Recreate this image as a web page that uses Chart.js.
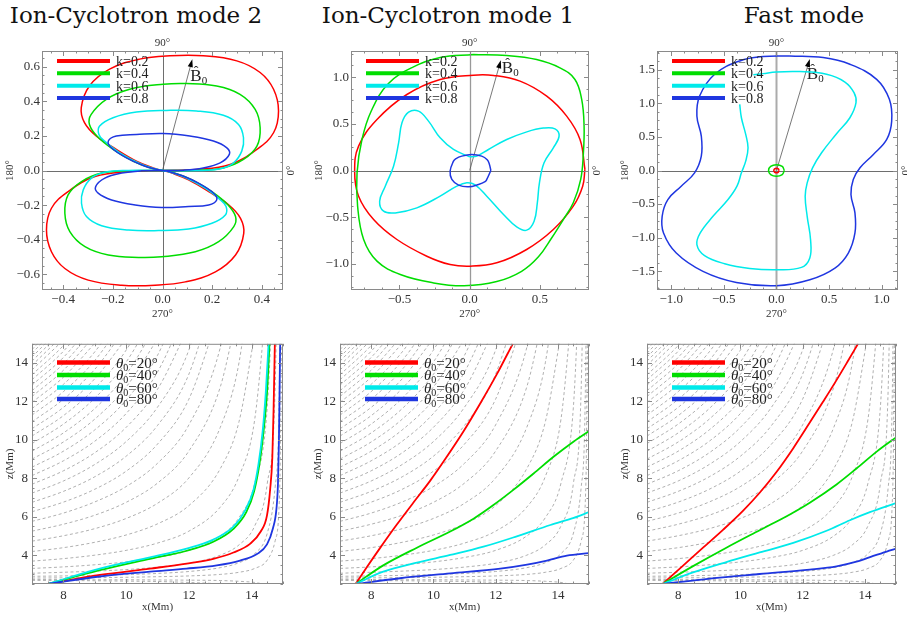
<!DOCTYPE html>
<html>
<head>
<meta charset="utf-8">
<title>Group velocity diagrams and ray paths</title>
<script src="https://cdn.jsdelivr.net/npm/chart.js@4.4.1/dist/chart.umd.min.js"></script>
<style>
  html, body { margin: 0; padding: 0; background: #fff; }
  body { position: relative; width: 907px; height: 624px; overflow: hidden; }
  canvas { position: absolute; }
  .title { position: absolute; top: 1px; font-family: "DejaVu Serif", serif; font-size: 23px; line-height: 28px; color: #111; white-space: nowrap; transform: translateX(-50%); }
</style>
</head>
<body>
<div class="title" style="left:136px">Ion-Cyclotron mode 2</div>
<div class="title" style="left:448px">Ion-Cyclotron mode 1</div>
<div class="title" style="left:804px">Fast mode</div>
<canvas id="ic2Polar"></canvas>
<canvas id="ic1Polar"></canvas>
<canvas id="fastPolar"></canvas>
<canvas id="ic2Rays"></canvas>
<canvas id="ic1Rays"></canvas>
<canvas id="fastRays"></canvas>
<script>
// ---- labels and ticks ----
const kLabels = ["k=0.2", "k=0.4", "k=0.6", "k=0.8"];
const thetaLabels = ["20°", "40°", "60°", "80°"];

const ic2XTicks = [-0.4, -0.2, 0, 0.2, 0.4];
const ic2YTicks = [-0.6, -0.4, -0.2, 0, 0.2, 0.4, 0.6];
const ic1XTicks = [-0.5, 0, 0.5];
const ic1YTicks = [-1, -0.5, 0, 0.5, 1];
const fastXTicks = [-1, -0.5, 0, 0.5, 1];
const fastYTicks = [-1.5, -1, -0.5, 0, 0.5, 1, 1.5];
const rayXTicks = [8, 10, 12, 14];
const rayZTicks = [4, 6, 8, 10, 12, 14];

// direction of B0 (arrow tip, data units)
const ic2B0 = [0.12, 0.643];
const ic1B0 = [0.222, 1.18];
const fastB0 = [0.317, 1.66];

// ---- group velocity curves, Ion-Cyclotron mode 2 (two lobes each) ----
const ic2K02Up = [[0,0],[0.137,0.006],[0.272,0.035],[0.380,0.122],[0.447,0.218],[0.467,0.344],[0.447,0.469],[0.393,0.566],[0.299,0.633],[0.164,0.662],[0.030,0.662],[-0.092,0.643],[-0.213,0.585],[-0.294,0.488],[-0.327,0.363],[-0.314,0.276],[-0.267,0.199],[-0.186,0.122],[-0.105,0.054],[-0.038,0.015],[0,0]];
const ic2K02Lo = [[0,0],[-0.137,-0.006],[-0.272,-0.035],[-0.380,-0.122],[-0.447,-0.218],[-0.467,-0.344],[-0.447,-0.469],[-0.393,-0.566],[-0.299,-0.633],[-0.164,-0.662],[-0.030,-0.662],[0.092,-0.643],[0.213,-0.585],[0.294,-0.488],[0.327,-0.363],[0.314,-0.276],[0.267,-0.199],[0.186,-0.122],[0.105,-0.054],[0.038,-0.015],[0,0]];
const ic2K04Up = [[0,0],[0.137,0.002],[0.245,0.015],[0.326,0.064],[0.380,0.141],[0.393,0.247],[0.373,0.353],[0.312,0.440],[0.218,0.488],[0.097,0.502],[0.003,0.498],[-0.132,0.469],[-0.226,0.411],[-0.287,0.324],[-0.294,0.266],[-0.262,0.196],[-0.199,0.122],[-0.119,0.054],[-0.051,0.015],[0,0]];
const ic2K04Lo = [[0,0],[-0.137,-0.002],[-0.245,-0.015],[-0.326,-0.064],[-0.380,-0.141],[-0.393,-0.247],[-0.373,-0.353],[-0.312,-0.440],[-0.218,-0.488],[-0.097,-0.502],[-0.003,-0.498],[0.132,-0.469],[0.226,-0.411],[0.287,-0.324],[0.294,-0.266],[0.262,-0.196],[0.199,-0.122],[0.119,-0.054],[0.051,-0.015],[0,0]];
const ic2K06Up = [[0,0],[0.137,0],[0.232,0.010],[0.286,0.044],[0.319,0.112],[0.326,0.189],[0.306,0.266],[0.245,0.319],[0.137,0.344],[0.016,0.347],[-0.105,0.338],[-0.199,0.305],[-0.253,0.257],[-0.256,0.208],[-0.233,0.170],[-0.172,0.102],[-0.092,0.041],[-0.031,0.010],[0,0]];
const ic2K06Lo = [[0,0],[-0.137,0],[-0.232,-0.010],[-0.286,-0.044],[-0.319,-0.112],[-0.326,-0.189],[-0.306,-0.266],[-0.245,-0.319],[-0.137,-0.344],[-0.016,-0.347],[0.105,-0.338],[0.199,-0.305],[0.253,-0.257],[0.256,-0.208],[0.233,-0.170],[0.172,-0.102],[0.092,-0.041],[0.031,-0.010],[0,0]];
const ic2K08Up = [[0,0],[0.084,0.002],[0.164,0.015],[0.232,0.044],[0.269,0.093],[0.259,0.131],[0.205,0.170],[0.110,0.199],[0.003,0.214],[-0.105,0.208],[-0.186,0.199],[-0.218,0.170],[-0.206,0.131],[-0.145,0.073],[-0.078,0.029],[-0.024,0.006],[0,0]];
const ic2K08Lo = [[0,0],[-0.084,-0.002],[-0.164,-0.015],[-0.232,-0.044],[-0.269,-0.093],[-0.259,-0.131],[-0.205,-0.170],[-0.110,-0.199],[-0.003,-0.214],[0.105,-0.208],[0.186,-0.199],[0.218,-0.170],[0.206,-0.131],[0.145,-0.073],[0.078,-0.029],[0.024,-0.006],[0,0]];

// ---- Ion-Cyclotron mode 1 ----
const ic1K02 = [[0.821,0.011],[0.786,0.332],[0.691,0.582],[0.549,0.796],[0.359,0.957],[0.170,1.018],[0.027,1.021],[-0.210,0.975],[-0.447,0.814],[-0.660,0.546],[-0.791,0.261],[-0.819,-0.007],[-0.791,-0.275],[-0.684,-0.525],[-0.518,-0.739],[-0.305,-0.918],[-0.139,-1.007],[0.004,-1.025],[0.193,-0.989],[0.406,-0.846],[0.596,-0.632],[0.738,-0.382],[0.805,-0.168],[0.821,0.011]];
const ic1K04 = [[0.027,1.243],[0.264,1.232],[0.477,1.189],[0.643,1.100],[0.750,0.975],[0.798,0.761],[0.815,0.475],[0.810,0.189],[0.791,-0.096],[0.738,-0.346],[0.667,-0.525],[0.585,-0.720],[0.490,-0.925],[0.370,-1.080],[0.193,-1.190],[-0.040,-1.235],[-0.257,-1.204],[-0.494,-1.114],[-0.660,-0.971],[-0.755,-0.739],[-0.798,-0.382],[-0.802,-0.025],[-0.767,0.332],[-0.700,0.640],[-0.580,0.930],[-0.400,1.110],[-0.210,1.210],[0.027,1.243]];
const ic1K06 = [[0,0.146],[-0.115,0.225],[-0.210,0.350],[-0.293,0.529],[-0.364,0.636],[-0.435,0.625],[-0.482,0.511],[-0.506,0.296],[-0.542,0.046],[-0.601,-0.168],[-0.641,-0.329],[-0.613,-0.436],[-0.530,-0.454],[-0.376,-0.400],[-0.210,-0.275],[-0.091,-0.168],[-0.020,-0.132],[0.039,-0.154],[0.122,-0.275],[0.241,-0.471],[0.335,-0.604],[0.406,-0.639],[0.459,-0.543],[0.482,-0.346],[0.497,-0.132],[0.530,0.082],[0.596,0.243],[0.637,0.368],[0.608,0.446],[0.525,0.454],[0.407,0.414],[0.264,0.332],[0.134,0.225],[0.051,0.154],[0,0.146]];
const ic1K08 = [[0.151,0],[0.140,0.070],[0.125,0.115],[0.086,0.154],[0.015,0.171],[-0.056,0.154],[-0.100,0.125],[-0.115,0.100],[-0.139,-0.007],[-0.127,-0.096],[-0.079,-0.157],[-0.008,-0.175],[0.063,-0.150],[0.110,-0.120],[0.122,-0.096],[0.151,0]];

// ---- Fast mode ----
const fastK02 = [[0.025,0],[0.018,0.025],[0,0.035],[-0.018,0.025],[-0.025,0],[-0.018,-0.025],[0,-0.035],[0.018,-0.025],[0.025,0]];
const fastK04 = [[0.075,0],[0.055,0.060],[0,0.085],[-0.055,0.060],[-0.075,0],[-0.055,-0.060],[0,-0.085],[0.055,-0.060],[0.075,0]];
const fastK06 = [[-0.349,0.985],[-0.333,0.786],[-0.292,0.537],[-0.270,0.338],[-0.292,0.139],[-0.333,-0.035],[-0.375,-0.234],[-0.460,-0.433],[-0.603,-0.682],[-0.724,-0.930],[-0.756,-1.104],[-0.683,-1.269],[-0.492,-1.388],[-0.254,-1.458],[0,-1.478],[0.238,-1.443],[0.317,-1.303],[0.324,-1.030],[0.292,-0.682],[0.273,-0.383],[0.292,-0.184],[0.343,0.040],[0.429,0.264],[0.571,0.547],[0.698,0.786],[0.756,1.010],[0.737,1.159],[0.651,1.318],[0.476,1.433],[0.222,1.473],[0,1.468],[-0.127,1.443],[-0.220,1.425]];
const fastK08 = [[0.127,1.706],[0.444,1.682],[0.698,1.582],[0.952,1.358],[1.073,1.060],[1.095,0.736],[1.048,0.463],[0.921,0.239],[0.794,0.040],[0.730,-0.134],[0.708,-0.358],[0.746,-0.632],[0.746,-0.930],[0.683,-1.229],[0.556,-1.453],[0.317,-1.627],[0,-1.716],[-0.381,-1.667],[-0.698,-1.502],[-0.952,-1.229],[-1.073,-0.930],[-1.086,-0.682],[-1.032,-0.433],[-0.905,-0.234],[-0.778,-0.035],[-0.714,0.214],[-0.714,0.512],[-0.756,0.811],[-0.730,1.109],[-0.587,1.433],[-0.349,1.632],[-0.127,1.697],[0.127,1.706]];

// ---- ray paths (x, z in Mm) ----
const ic2Ray20 = [[7.5,2.5],[9.16,2.97],[10.76,3.30],[11.93,3.56],[12.78,3.81],[13.42,4.14],[13.95,4.59],[14.29,5.23],[14.49,6.07],[14.59,7.41],[14.66,9.09],[14.70,11.6],[14.74,15]];
const ic2Ray40 = [[7.5,2.5],[9.16,3.22],[10.76,3.81],[11.93,4.23],[12.78,4.70],[13.42,5.37],[13.83,6.24],[14.08,7.33],[14.25,8.75],[14.38,10.43],[14.49,12.44],[14.57,15]];
const ic2Ray60 = [[7.5,2.5],[9.16,3.30],[10.76,3.89],[11.93,4.34],[12.78,4.81],[13.42,5.48],[13.79,6.32],[14.06,7.41],[14.22,8.75],[14.35,10.43],[14.45,12.44],[14.54,15]];
const ic2Ray80 = [[7.5,2.5],[9.16,2.89],[10.76,3.14],[11.93,3.30],[12.89,3.47],[13.63,3.72],[14.17,4.06],[14.49,4.56],[14.68,5.40],[14.79,6.40],[14.84,7.74],[14.87,9.92],[14.89,12.44],[14.91,15]];

const ic1Ray20 = [[7.5,2.5],[7.86,3.37],[8.29,4.38],[8.82,5.58],[9.36,6.74],[9.90,7.88],[10.43,9.12],[10.97,10.45],[11.50,11.88],[12.04,13.42],[12.55,15]];
const ic1Ray40 = [[7.5,2.5],[8.39,3.47],[9.47,4.39],[10.54,5.23],[11.29,5.90],[11.93,6.61],[12.58,7.41],[13.22,8.25],[13.86,9.12],[14.51,9.92],[15.0,10.46]];
const ic1Ray60 = [[7.5,2.5],[8.39,3.14],[9.47,3.61],[10.54,4.01],[11.61,4.44],[12.68,4.98],[13.76,5.57],[14.51,5.94],[15.0,6.24]];
const ic1Ray80 = [[7.5,2.5],[8.93,2.80],[10.54,3.05],[12.15,3.30],[13.01,3.51],[13.65,3.72],[14.29,3.98],[15.0,4.11]];

const fastRay20 = [[7.5,2.5],[8.16,3.46],[8.80,4.39],[9.45,5.33],[10.09,6.32],[10.62,7.25],[11.16,8.33],[11.70,9.57],[12.23,10.90],[12.65,11.97],[13.04,12.98],[13.45,14.09],[13.78,15]];
const fastRay40 = [[7.5,2.5],[8.48,3.43],[9.55,4.39],[10.62,5.30],[11.59,6.12],[12.23,6.73],[13.09,7.68],[13.73,8.51],[14.38,9.39],[15.0,10.13]];
const fastRay60 = [[7.5,2.5],[8.48,3.10],[9.55,3.64],[10.62,4.14],[11.70,4.64],[12.77,5.27],[13.52,5.82],[14.16,6.24],[15.0,6.71]];
const fastRay80 = [[7.5,2.5],[9.02,2.78],[10.62,3.02],[12.23,3.25],[13.09,3.42],[13.73,3.66],[14.27,3.96],[14.70,4.19],[15.0,4.34]];

// ---- background field lines: z values at the shared x positions ----
const fieldX = [7, 8, 9, 10, 11, 12, 13, 13.6, 14.1, 14.5, 14.75, 14.9, 14.97];
const fieldZ = [
  [14.88, 16.61],
  [14.70, 16.41],
  [14.51, 16.19],
  [14.31, 15.96],
  [14.10, 15.72],
  [13.88, 15.46],
  [13.64, 15.19],
  [13.39, 14.91, 16.93],
  [13.13, 14.61, 16.58],
  [12.85, 14.29, 16.22],
  [12.56, 13.96, 15.83],
  [12.26, 13.62, 15.43],
  [11.95, 13.26, 15.02],
  [11.63, 12.89, 14.58, 16.95],
  [11.29, 12.51, 14.13, 16.41],
  [10.94, 12.11, 13.67, 15.85],
  [10.58, 11.69, 13.18, 15.27],
  [10.20, 11.26, 12.68, 14.67, 17.65],
  [9.81, 10.82, 12.17, 14.05, 16.88],
  [9.41, 10.36, 11.63, 13.41, 16.08],
  [9.00, 9.89, 11.08, 12.75, 15.25],
  [8.58, 9.41, 10.52, 12.07, 14.40, 18.28],
  [8.14, 8.91, 9.93, 11.37, 13.53, 17.12],
  [7.69, 8.39, 9.33, 10.65, 12.63, 15.92],
  [7.23, 7.86, 8.72, 9.91, 11.70, 14.68, 20.65],
  [6.75, 7.32, 8.08, 9.15, 10.75, 13.42, 18.75],
  [6.26, 6.76, 7.43, 8.37, 9.78, 12.12, 16.80],
  [5.76, 6.19, 6.77, 7.57, 8.78, 10.78, 14.80, 19.96],
  [5.25, 5.61, 6.08, 6.75, 7.75, 9.42, 12.75, 17.04],
  [4.73, 5.01, 5.38, 5.91, 6.70, 8.02, 10.65, 14.04, 20.31],
  [4.19, 4.39, 4.67, 5.05, 5.63, 6.58, 8.50, 10.96, 15.53],
  [3.69, 3.82, 4.00, 4.25, 4.63, 5.25, 6.50, 8.11, 11.08, 17.75],
  [3.31, 3.39, 3.50, 3.65, 3.88, 4.25, 5.00, 5.96, 7.75, 11.75, 20.75],
  [3.06, 3.11, 3.17, 3.25, 3.38, 3.58, 4.00, 4.54, 5.53, 7.75, 12.75, 27.75],
  [2.90, 2.92, 2.95, 2.99, 3.05, 3.15, 3.35, 3.61, 4.08, 5.15, 7.55, 14.75, 42.75],
  [2.81, 2.82, 2.83, 2.85, 2.88, 2.92, 3.00, 3.11, 3.31, 3.75, 4.75, 7.75, 19.42],
  [2.73, 2.73, 2.72, 2.72, 2.71, 2.70, 2.68, 2.64, 2.58, 2.45],
  [2.69, 2.68, 2.67, 2.65, 2.63, 2.58, 2.50, 2.39]
];

// ---- styling ----
const colors = ["#ff0000", "#00dd00", "#00eaea", "#1f36e0"];
const serif = '"Liberation Serif", "Times New Roman", serif';
const pts = a => a.map(([x, y]) => ({ x, y }));
const fmt1 = v => (v < 0 ? "\u2212" : "") + Math.abs(v).toFixed(1);

function minorVals(scale, sub) {
  const maj = scale.ticks.map(t => t.value);
  const step = (maj[1] - maj[0]) / sub;
  const out = [];
  let v = maj[0];
  while (v - step >= scale.min - 1e-9) v -= step;
  for (; v <= scale.max + 1e-9; v += step) out.push(v);
  return out;
}

function drawTheta(ctx, deg, x, y) {
  ctx.textAlign = "left";
  ctx.textBaseline = "alphabetic";
  ctx.font = "italic 15px " + serif;
  ctx.fillText("θ", x, y);
  let w = ctx.measureText("θ").width;
  ctx.font = "10px " + serif;
  ctx.fillText("0", x + w, y + 3);
  w += ctx.measureText("0").width;
  ctx.font = "15px " + serif;
  ctx.fillText("=" + deg, x + w, y);
}

const deco = {
  id: "deco",
  beforeDatasetsDraw(chart, args, o) {
    const { ctx, chartArea: a } = chart;
    const xs = chart.scales.x, ys = chart.scales.y;
    if (!o.polar) return;
    ctx.save();
    const px = Math.round(xs.getPixelForValue(0)) + 0.5;
    const py = Math.round(ys.getPixelForValue(0)) + 0.5;
    ctx.strokeStyle = o.vAxis[0];
    ctx.lineWidth = o.vAxis[1];
    ctx.beginPath();
    ctx.moveTo(px, a.top); ctx.lineTo(px, a.bottom);
    ctx.stroke();
    ctx.strokeStyle = "#6e6e6e";
    ctx.lineWidth = 1;
    ctx.beginPath();
    ctx.moveTo(a.left, py); ctx.lineTo(a.right, py);
    ctx.stroke();
    if (o.b0) {
      const x0 = xs.getPixelForValue(0), y0 = ys.getPixelForValue(0);
      const x1 = xs.getPixelForValue(o.b0[0]), y1 = ys.getPixelForValue(o.b0[1]);
      const ang = Math.atan2(y1 - y0, x1 - x0);
      const c = Math.cos(ang), s = Math.sin(ang);
      ctx.strokeStyle = "#555";
      ctx.lineWidth = 0.8;
      ctx.beginPath();
      ctx.moveTo(x0, y0);
      ctx.lineTo(x1 - 6 * c, y1 - 6 * s);
      ctx.stroke();
      ctx.fillStyle = "#000";
      ctx.beginPath();
      ctx.moveTo(x1, y1);
      ctx.lineTo(x1 - 8 * c + 2.6 * s, y1 - 8 * s - 2.6 * c);
      ctx.lineTo(x1 - 8 * c - 2.6 * s, y1 - 8 * s + 2.6 * c);
      ctx.closePath();
      ctx.fill();
      const bx = x1 + o.b0Off[0], by = y1 + o.b0Off[1];
      ctx.fillStyle = "#222";
      ctx.textBaseline = "alphabetic";
      ctx.textAlign = "left";
      ctx.font = "17px " + serif;
      ctx.fillText("B", bx, by);
      const bw = ctx.measureText("B").width;
      ctx.font = "14px " + serif;
      ctx.textAlign = "center";
      ctx.fillText("\u02C6", bx + bw / 2, by - 5);
      ctx.font = "11px " + serif;
      ctx.textAlign = "left";
      ctx.fillText("0", bx + bw, by + 3);
    }
    ctx.restore();
  },
  afterDatasetsDraw(chart, args, o) {
    const { ctx, chartArea: a } = chart;
    const xs = chart.scales.x, ys = chart.scales.y;
    ctx.save();
    // frame with inward ticks
    ctx.strokeStyle = "#8a8a8a";
    ctx.lineWidth = 1;
    ctx.strokeRect(a.left + 0.5, a.top + 0.5, a.right - a.left - 1, a.bottom - a.top - 1);
    ctx.beginPath();
    const majX = xs.ticks.map(t => t.value), majY = ys.ticks.map(t => t.value);
    minorVals(xs, o.sub).forEach(v => {
      const len = majX.some(m => Math.abs(m - v) < 1e-6) ? 5 : 2.5;
      const p = Math.round(xs.getPixelForValue(v)) + 0.5;
      ctx.moveTo(p, a.bottom); ctx.lineTo(p, a.bottom - len);
      ctx.moveTo(p, a.top); ctx.lineTo(p, a.top + len);
    });
    minorVals(ys, o.sub).forEach(v => {
      const len = majY.some(m => Math.abs(m - v) < 1e-6) ? 5 : 2.5;
      const p = Math.round(ys.getPixelForValue(v)) + 0.5;
      ctx.moveTo(a.left, p); ctx.lineTo(a.left + len, p);
      ctx.moveTo(a.right, p); ctx.lineTo(a.right - len, p);
    });
    ctx.stroke();

    // legend
    const L = o.legend;
    let row = 0;
    chart.data.datasets.forEach(ds => {
      if (!ds.inLegend) return;
      const y = a.top + L.rows[row];
      ctx.strokeStyle = ds.borderColor;
      ctx.lineWidth = L.lw;
      ctx.beginPath();
      ctx.moveTo(a.left + L.x0, y); ctx.lineTo(a.left + L.x1, y);
      ctx.stroke();
      ctx.fillStyle = "#222";
      if (L.theta) {
        drawTheta(ctx, ds.label, a.left + L.tx, y + 5);
      } else {
        ctx.font = "14px " + serif;
        ctx.textAlign = "left";
        ctx.textBaseline = "alphabetic";
        ctx.fillText(ds.label, a.left + L.tx, y + 5);
      }
      row++;
    });

    // angle labels around the polar frames
    if (o.polar) {
      const px = xs.getPixelForValue(0), py = ys.getPixelForValue(0);
      ctx.fillStyle = "#333";
      ctx.font = "11px " + serif;
      ctx.textAlign = "center";
      ctx.textBaseline = "middle";
      ctx.fillText("90°", px, a.top - 8);
      ctx.fillText("270°", px, a.bottom + 24);
      ctx.save();
      ctx.translate(a.left - 32, py);
      ctx.rotate(-Math.PI / 2);
      ctx.fillText("180°", 0, 0);
      ctx.restore();
      ctx.save();
      ctx.translate(a.right + 8, py);
      ctx.rotate(-Math.PI / 2);
      ctx.fillText("0°", 0, 0);
      ctx.restore();
    }
    ctx.restore();
  }
};

function place(id, f, p) {
  const cv = document.getElementById(id);
  cv.width = f.right - f.left + p.l + p.r;
  cv.height = f.bottom - f.top + p.t + p.b;
  cv.style.left = (f.left - p.l) + "px";
  cv.style.top = (f.top - p.t) + "px";
  return cv;
}

function axis(range, ticks, fmt, size, pad, title, isX) {
  return {
    type: "linear",
    min: range[0],
    max: range[1],
    afterBuildTicks: s => { s.ticks = ticks.map(v => ({ value: v })); },
    afterFit: s => { if (isX) s.height = size; else s.width = size; },
    grid: { display: false, drawTicks: false },
    border: { display: false },
    ticks: {
      autoSkip: false, maxRotation: 0, padding: pad,
      color: "#333", font: { family: serif, size: 13 },
      callback: v => fmt(v)
    },
    title: title ? { display: true, text: title, color: "#333", font: { family: serif, size: 11 }, padding: 0 } : { display: false }
  };
}

function polarChart(id, frame, series, xr, yr, xt, yt, b0, b0Off, vAxis) {
  const p = { l: 42, t: 16, r: 16, b: 34 };
  const cv = place(id, frame, p);
  const datasets = [];
  series.forEach((parts, i) => {
    parts.forEach((part, j) => datasets.push({
      label: kLabels[i], inLegend: j === 0, data: pts(part),
      borderColor: colors[i], borderWidth: 1.5, pointRadius: 0,
      showLine: true, tension: 0.4, order: -i
    }));
  });
  return new Chart(cv, {
    type: "scatter",
    data: { datasets },
    plugins: [deco],
    options: {
      responsive: false, animation: false, devicePixelRatio: 1,
      layout: { padding: { left: 0, top: p.t, right: p.r, bottom: 0 } },
      scales: {
        x: axis(xr, xt, fmt1, p.b, 2, null, true),
        y: axis(yr, yt, fmt1, p.l, 2, null, false)
      },
      plugins: {
        legend: { display: false }, tooltip: { enabled: false },
        deco: { polar: true, sub: 4, b0, b0Off, vAxis,
          legend: { x0: 15, x1: 68, tx: 74, rows: [10, 22.3, 34.7, 47], lw: 4 } }
      }
    }
  });
}

function rayChart(id, frame, rays) {
  const p = { l: 28, t: 4, r: 8, b: 30 };
  const cv = place(id, frame, p);
  const datasets = rays.map((r, i) => ({
    label: thetaLabels[i], inLegend: true, data: pts(r),
    borderColor: colors[i], borderWidth: 1.8, pointRadius: 0,
    showLine: true, cubicInterpolationMode: "monotone", order: -i
  }));
  fieldZ.forEach(zs => datasets.push({
    data: zs.map((z, j) => ({ x: fieldX[j], y: z })),
    borderColor: "#9c9c9c", borderWidth: 0.8, borderDash: [3, 2.5], pointRadius: 0,
    showLine: true, cubicInterpolationMode: "monotone", order: 5
  }));
  return new Chart(cv, {
    type: "scatter",
    data: { datasets },
    plugins: [deco],
    options: {
      responsive: false, animation: false, devicePixelRatio: 1,
      layout: { padding: { left: 0, top: p.t, right: p.r, bottom: 0 } },
      scales: {
        x: axis([7, 15], rayXTicks, v => String(v), p.b, 4, "x(Mm)", true),
        y: axis([2.5, 15], rayZTicks, v => String(v), p.l, 4, "z(Mm)", false)
      },
      plugins: {
        legend: { display: false }, tooltip: { enabled: false },
        deco: { polar: false, sub: 4,
          legend: { x0: 25, x1: 78, tx: 84, rows: [18.7, 31.3, 43.7, 55.3], lw: 4.5, theta: true } }
      }
    }
  });
}

polarChart("ic2Polar", { left: 42, top: 51, right: 283, bottom: 290 },
  [[ic2K02Up, ic2K02Lo], [ic2K04Up, ic2K04Lo], [ic2K06Up, ic2K06Lo], [ic2K08Up, ic2K08Lo]],
  [-0.485, 0.485], [-0.69, 0.69], ic2XTicks, ic2YTicks, ic2B0, [-2, 22], ["#6e6e6e", 1]);
polarChart("ic1Polar", { left: 351, top: 51, right: 589, bottom: 290 },
  [[ic1K02], [ic1K04], [ic1K06], [ic1K08]],
  [-0.845, 0.85], [-1.28, 1.28], ic1XTicks, ic1YTicks, ic1B0, [1, 13], ["#999999", 1.3]);
polarChart("fastPolar", { left: 657, top: 51, right: 898, bottom: 290 },
  [[fastK02], [fastK04], [fastK06], [fastK08]],
  [-1.135, 1.155], [-1.78, 1.78], fastXTicks, fastYTicks, fastB0, [-3, 20], ["#ababab", 2]);

rayChart("ic2Rays", { left: 32, top: 336, right: 283, bottom: 584 }, [ic2Ray20, ic2Ray40, ic2Ray60, ic2Ray80]);
rayChart("ic1Rays", { left: 340, top: 336, right: 589, bottom: 584 }, [ic1Ray20, ic1Ray40, ic1Ray60, ic1Ray80]);
rayChart("fastRays", { left: 647, top: 336, right: 896, bottom: 584 }, [fastRay20, fastRay40, fastRay60, fastRay80]);
</script>
</body>
</html>
